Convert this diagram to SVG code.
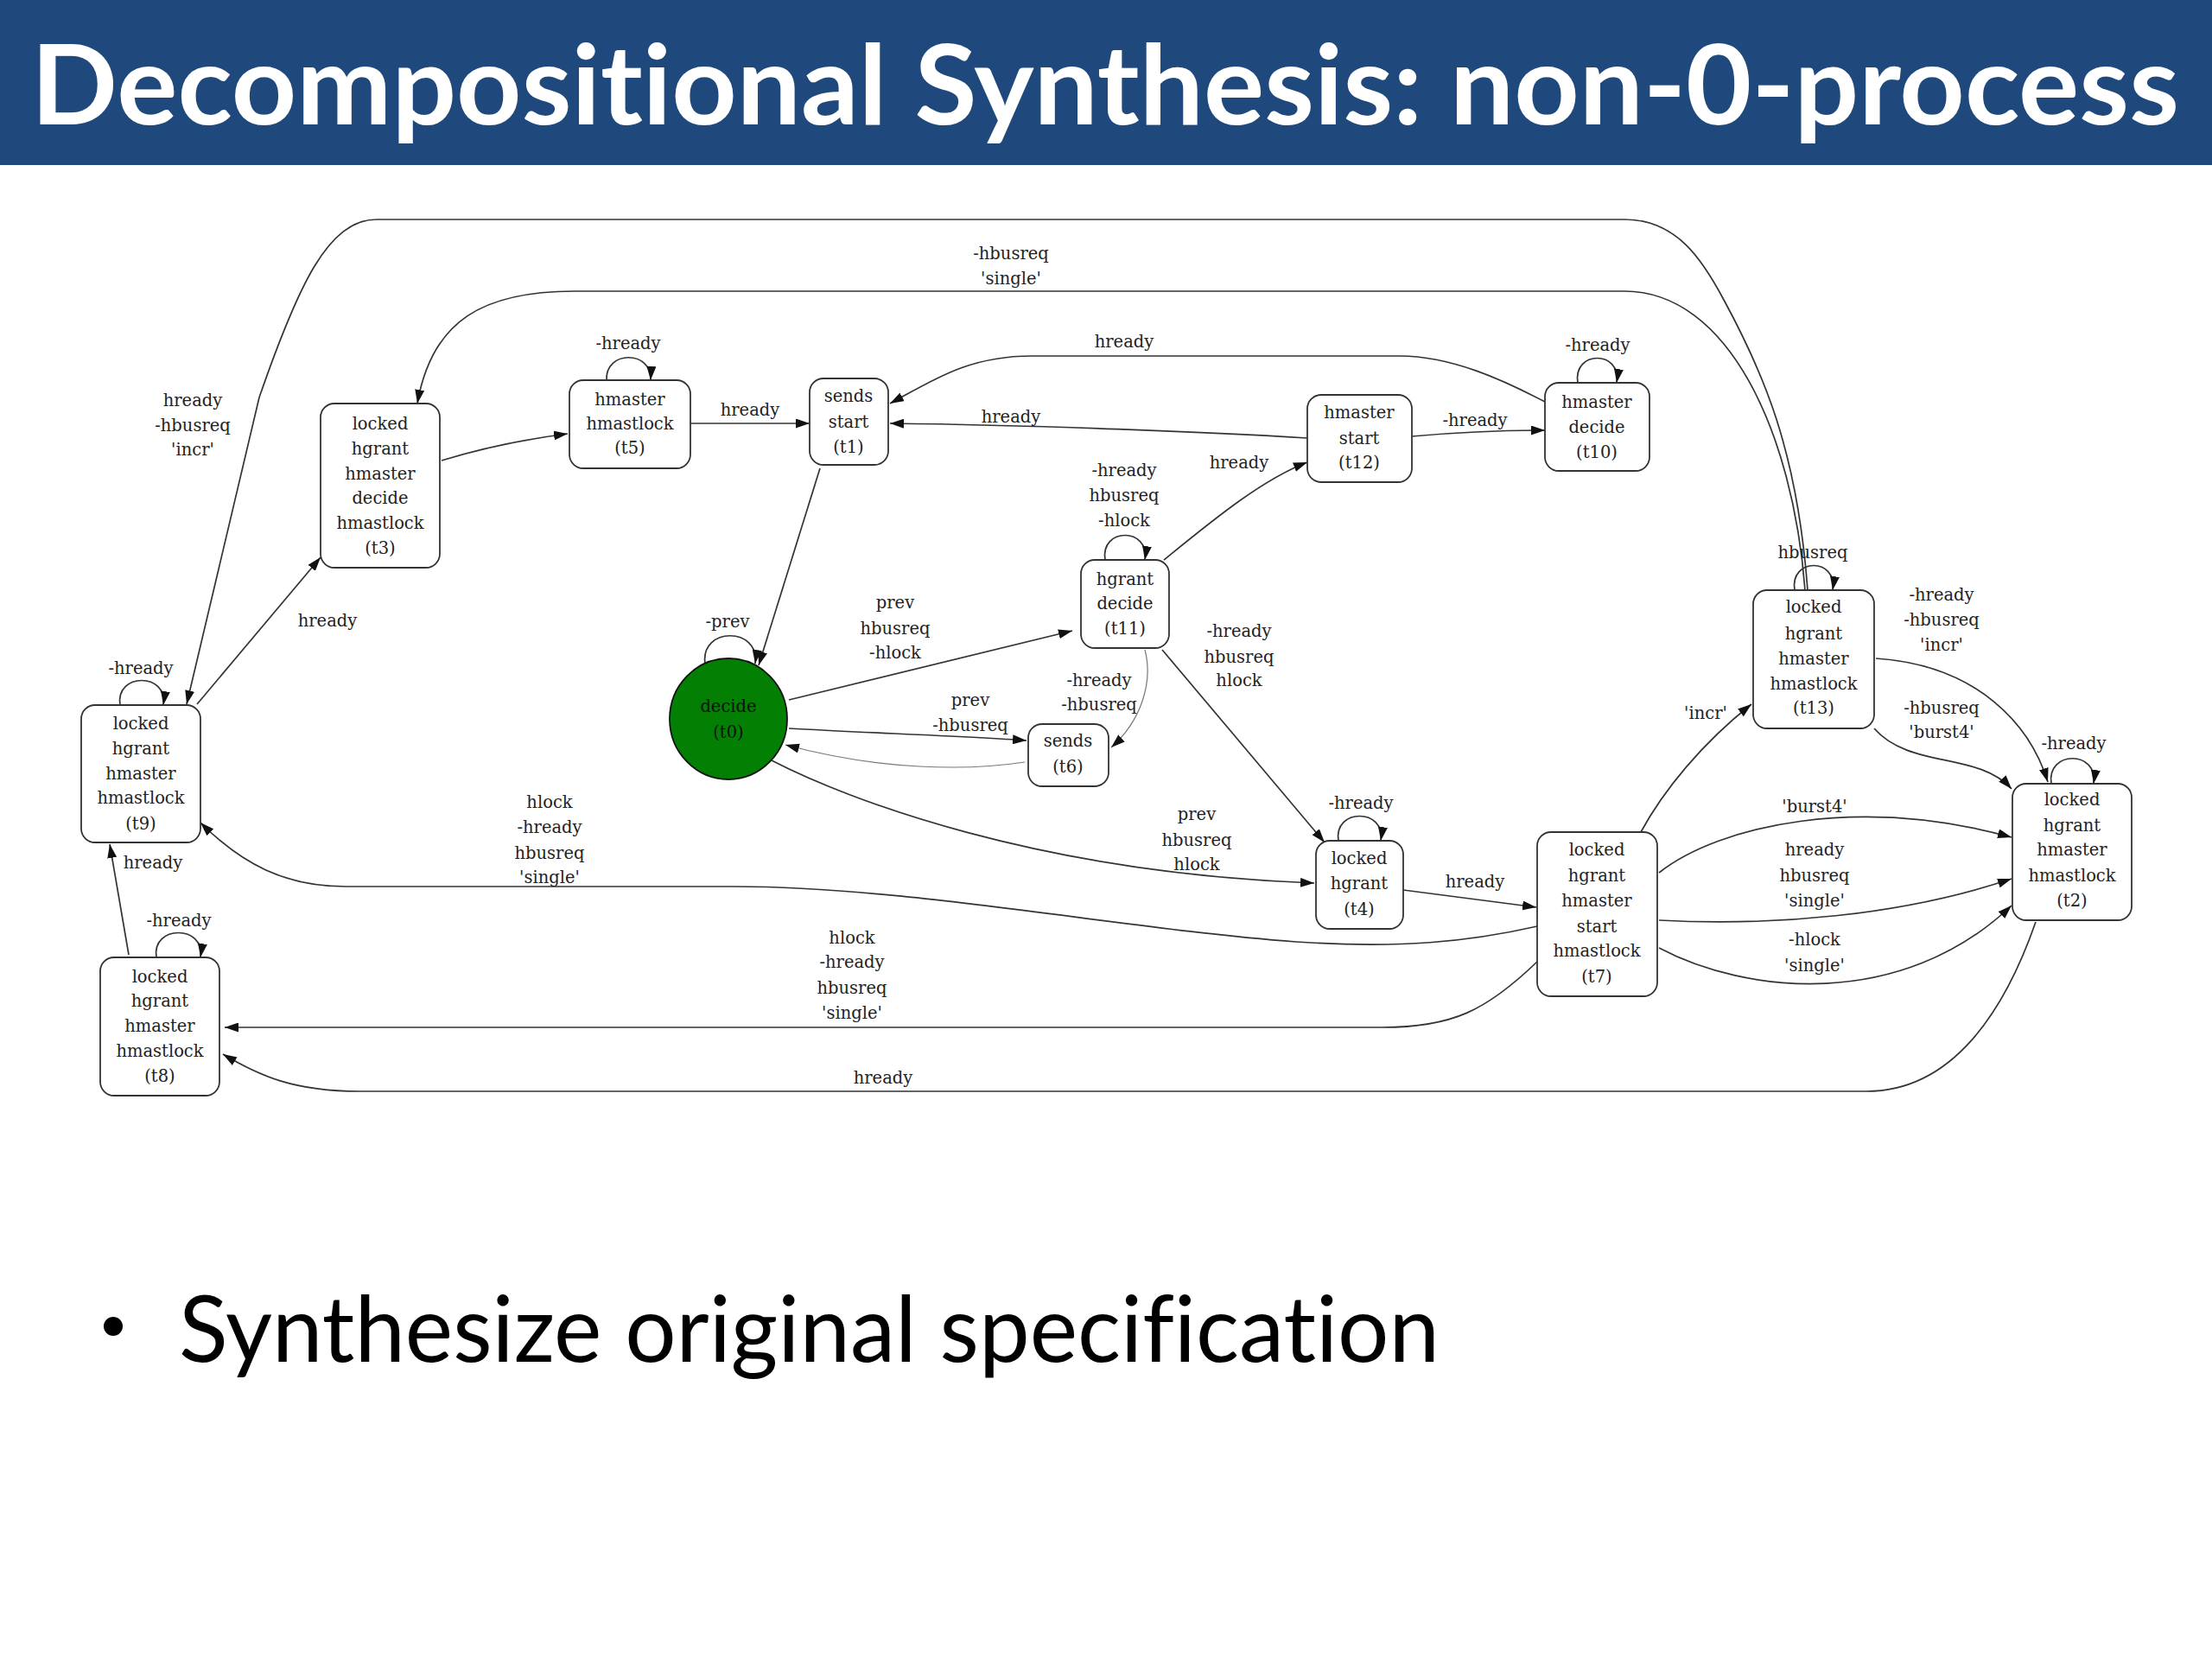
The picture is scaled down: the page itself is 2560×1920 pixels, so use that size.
<svg xmlns="http://www.w3.org/2000/svg" width="2560" height="1920" viewBox="0 0 2560 1920">
<style>
.box{fill:#fff;stroke:#333;stroke-width:1.8}
.e{fill:none;stroke:#333;stroke-width:1.7;marker-end:url(#ah)}
.el{fill:none;stroke:#777;stroke-width:1.2;marker-end:url(#ah)}
.t{font-family:"DejaVu Serif",serif;font-size:19.5px;fill:#222;text-anchor:middle}
.slide{font-family:Lato,"Open Sans",sans-serif;font-variant-ligatures:none;font-feature-settings:"liga" 0,"clig" 0}
</style>
<defs>
<marker id="ah" markerUnits="userSpaceOnUse" markerWidth="16" markerHeight="11" viewBox="0 0 16 11" refX="16" refY="5.5" orient="auto">
<path d="M0,0 L16,5.5 L0,11 z" fill="#111"/>
</marker>
</defs>
<rect x="0" y="0" width="2560" height="1920" fill="#fff"/>
<rect x="0" y="0" width="2560" height="191" fill="#1f497d"/>
<text class="slide" x="36" y="144" font-weight="bold" font-size="128" fill="#fff" textLength="2486" lengthAdjust="spacingAndGlyphs">Decompositional Synthesis: non-0-process</text>
<circle cx="131" cy="1535" r="11" fill="#000"/>
<text class="slide" x="207" y="1576" font-size="107" fill="#000" textLength="1459" lengthAdjust="spacingAndGlyphs">Synthesize original specification</text>

<g id="connectors">
<path class="e" d="M2092,683 C2080,520 2040,430 1995,347 C1970,300 1940,254 1880,254 L436,254 C380,254 345,330 300,460 L216,815"/>
<path class="e" d="M2089,683 C2075,500 2000,337 1880,337 L665,337 C560,337 500,370 483,467"/>
<path class="e" d="M511,533 C560,518 610,508 657,502"/>
<path class="e" d="M702,440 C700,405 755,405 753,440"/>
<path class="e" d="M799,490 L937,490"/>
<path class="e" d="M949,542 L878,770"/>
<path class="e" d="M816,768 C810,725 880,725 874,768"/>
<path class="e" d="M913,810 L1241,730"/>
<path class="e" d="M913,843 C1000,848 1120,852 1188,857"/>
<path class="el" d="M1186,882 C1120,892 1020,892 909,862"/>
<path class="e" d="M1279,648 C1273,610 1331,610 1325,648"/>
<path class="e" d="M1347,648 C1400,605 1460,555 1513,535"/>
<path class="el" d="M1325,752 C1335,790 1320,835 1286,865"/>
<path class="e" d="M1345,752 L1533,975"/>
<path class="e" d="M893,880 C980,925 1200,1010 1521,1022"/>
<path class="e" d="M1549,973 C1543,935 1604,935 1598,973"/>
<path class="e" d="M1624,1030 L1778,1050"/>
<path class="e" d="M1899,963 C1925,915 1970,860 2027,815"/>
<path class="e" d="M2077,683 C2071,645 2127,645 2121,683"/>
<path class="e" d="M2171,762 C2290,770 2350,840 2370,905"/>
<path class="e" d="M2169,843 C2210,890 2290,870 2328,913"/>
<path class="e" d="M2374,907 C2368,868 2429,868 2423,907"/>
<path class="e" d="M1920,1010 C1990,955 2150,920 2328,969"/>
<path class="e" d="M1920,1065 C2050,1072 2200,1060 2328,1017"/>
<path class="e" d="M1920,1097 C2020,1150 2200,1170 2328,1048"/>
<path class="e" d="M2356,1067 C2320,1170 2260,1263 2160,1263 L416,1263 C340,1263 300,1245 258,1220"/>
<path class="e" d="M1779,1113 C1720,1170 1680,1189 1600,1189 L260,1189"/>
<path class="e" d="M1779,1072 C1700,1090 1620,1098 1500,1090 C1300,1075 1050,1026 850,1026 L400,1026 C330,1026 280,1000 232,952"/>
<path class="e" d="M228,815 L371,645"/>
<path class="e" d="M149,1105 L127,977"/>
<path class="e" d="M139,816 C133,778 195,778 189,816"/>
<path class="e" d="M181,1108 C175,1070 238,1070 232,1108"/>
<path class="e" d="M1826,443 C1820,405 1877,405 1871,443"/>
<path class="e" d="M1634,505 C1690,500 1740,498 1788,498"/>
<path class="e" d="M1788,465 C1740,440 1680,412 1620,412 L1194,412 C1120,412 1080,440 1030,467"/>
<path class="e" d="M1513,507 C1400,500 1200,492 1030,490"/>

<text class="t" x="223" y="470">hready</text>
<text class="t" x="223" y="499">-hbusreq</text>
<text class="t" x="223" y="527">'incr'</text>
<text class="t" x="1170" y="300">-hbusreq</text>
<text class="t" x="1170" y="329">'single'</text>
<text class="t" x="727" y="404">-hready</text>
<text class="t" x="868" y="481">hready</text>
<text class="t" x="1301" y="402">hready</text>
<text class="t" x="1170" y="489">hready</text>
<text class="t" x="1849" y="406">-hready</text>
<text class="t" x="1707" y="493">-hready</text>
<text class="t" x="1434" y="542">hready</text>
<text class="t" x="1301" y="551">-hready</text>
<text class="t" x="1301" y="580">hbusreq</text>
<text class="t" x="1301" y="609">-hlock</text>
<text class="t" x="842" y="726">-prev</text>
<text class="t" x="1036" y="704">prev</text>
<text class="t" x="1036" y="734">hbusreq</text>
<text class="t" x="1036" y="762">-hlock</text>
<text class="t" x="1123" y="817">prev</text>
<text class="t" x="1123" y="846">-hbusreq</text>
<text class="t" x="1272" y="794">-hready</text>
<text class="t" x="1272" y="822">-hbusreq</text>
<text class="t" x="1434" y="737">-hready</text>
<text class="t" x="1434" y="767">hbusreq</text>
<text class="t" x="1434" y="794">hlock</text>
<text class="t" x="1385" y="949">prev</text>
<text class="t" x="1385" y="979">hbusreq</text>
<text class="t" x="1385" y="1007">hlock</text>
<text class="t" x="1575" y="936">-hready</text>
<text class="t" x="1707" y="1027">hready</text>
<text class="t" x="1974" y="832">'incr'</text>
<text class="t" x="2098" y="646">hbusreq</text>
<text class="t" x="2247" y="695">-hready</text>
<text class="t" x="2247" y="724">-hbusreq</text>
<text class="t" x="2247" y="753">'incr'</text>
<text class="t" x="2247" y="826">-hbusreq</text>
<text class="t" x="2247" y="854">'burst4'</text>
<text class="t" x="2400" y="867">-hready</text>
<text class="t" x="2100" y="940">'burst4'</text>
<text class="t" x="2100" y="990">hready</text>
<text class="t" x="2100" y="1020">hbusreq</text>
<text class="t" x="2100" y="1049">'single'</text>
<text class="t" x="2100" y="1094">-hlock</text>
<text class="t" x="2100" y="1124">'single'</text>
<text class="t" x="1022" y="1254">hready</text>
<text class="t" x="986" y="1092">hlock</text>
<text class="t" x="986" y="1120">-hready</text>
<text class="t" x="986" y="1150">hbusreq</text>
<text class="t" x="986" y="1179">'single'</text>
<text class="t" x="636" y="935">hlock</text>
<text class="t" x="636" y="964">-hready</text>
<text class="t" x="636" y="994">hbusreq</text>
<text class="t" x="636" y="1022">'single'</text>
<text class="t" x="379" y="725">hready</text>
<text class="t" x="177" y="1005">hready</text>
<text class="t" x="163" y="780">-hready</text>
<text class="t" x="207" y="1072">-hready</text>
</g>

<g id="t0">
<ellipse cx="843" cy="832" rx="68" ry="70" fill="#037f03" stroke="#111" stroke-width="1.8"/>
<text class="t" x="843" y="824" style="fill:#111">decide</text>
<text class="t" x="843" y="854" style="fill:#111">(t0)</text>
</g>
<g id="t1">
<rect class="box" x="937" y="438" width="91" height="100" rx="16"/>
<text class="t" x="982" y="465">sends</text>
<text class="t" x="982" y="495">start</text>
<text class="t" x="982" y="524">(t1)</text>
</g>
<g id="t3">
<rect class="box" x="371" y="467" width="138" height="190" rx="16"/>
<text class="t" x="440" y="497">locked</text>
<text class="t" x="440" y="526">hgrant</text>
<text class="t" x="440" y="555">hmaster</text>
<text class="t" x="440" y="583">decide</text>
<text class="t" x="440" y="612">hmastlock</text>
<text class="t" x="440" y="641">(t3)</text>
</g>
<g id="t5">
<rect class="box" x="659" y="440" width="140" height="102" rx="16"/>
<text class="t" x="729" y="469">hmaster</text>
<text class="t" x="729" y="497">hmastlock</text>
<text class="t" x="729" y="525">(t5)</text>
</g>
<g id="t9">
<rect class="box" x="94" y="816" width="138" height="159" rx="16"/>
<text class="t" x="163" y="844">locked</text>
<text class="t" x="163" y="873">hgrant</text>
<text class="t" x="163" y="902">hmaster</text>
<text class="t" x="163" y="930">hmastlock</text>
<text class="t" x="163" y="960">(t9)</text>
</g>
<g id="t8">
<rect class="box" x="116" y="1108" width="138" height="160" rx="16"/>
<text class="t" x="185" y="1137">locked</text>
<text class="t" x="185" y="1165">hgrant</text>
<text class="t" x="185" y="1194">hmaster</text>
<text class="t" x="185" y="1223">hmastlock</text>
<text class="t" x="185" y="1252">(t8)</text>
</g>
<g id="t10">
<rect class="box" x="1788" y="443" width="121" height="102" rx="16"/>
<text class="t" x="1848" y="472">hmaster</text>
<text class="t" x="1848" y="501">decide</text>
<text class="t" x="1848" y="530">(t10)</text>
</g>
<g id="t11">
<rect class="box" x="1251" y="648" width="102" height="102" rx="16"/>
<text class="t" x="1302" y="677">hgrant</text>
<text class="t" x="1302" y="705">decide</text>
<text class="t" x="1302" y="734">(t11)</text>
</g>
<g id="t12">
<rect class="box" x="1513" y="457" width="121" height="101" rx="16"/>
<text class="t" x="1573" y="484">hmaster</text>
<text class="t" x="1573" y="514">start</text>
<text class="t" x="1573" y="542">(t12)</text>
</g>
<g id="t13">
<rect class="box" x="2029" y="683" width="140" height="160" rx="16"/>
<text class="t" x="2099" y="709">locked</text>
<text class="t" x="2099" y="740">hgrant</text>
<text class="t" x="2099" y="769">hmaster</text>
<text class="t" x="2099" y="798">hmastlock</text>
<text class="t" x="2099" y="826">(t13)</text>
</g>
<g id="t2">
<rect class="box" x="2329" y="907" width="138" height="158" rx="16"/>
<text class="t" x="2398" y="932">locked</text>
<text class="t" x="2398" y="962">hgrant</text>
<text class="t" x="2398" y="990">hmaster</text>
<text class="t" x="2398" y="1020">hmastlock</text>
<text class="t" x="2398" y="1049">(t2)</text>
</g>
<g id="t4">
<rect class="box" x="1523" y="973" width="101" height="102" rx="16"/>
<text class="t" x="1573" y="1000">locked</text>
<text class="t" x="1573" y="1029">hgrant</text>
<text class="t" x="1573" y="1059">(t4)</text>
</g>
<g id="t6">
<rect class="box" x="1190" y="838" width="93" height="72" rx="16"/>
<text class="t" x="1236" y="864">sends</text>
<text class="t" x="1236" y="894">(t6)</text>
</g>
<g id="t7">
<rect class="box" x="1779" y="963" width="139" height="190" rx="16"/>
<text class="t" x="1848" y="990">locked</text>
<text class="t" x="1848" y="1020">hgrant</text>
<text class="t" x="1848" y="1049">hmaster</text>
<text class="t" x="1848" y="1079">start</text>
<text class="t" x="1848" y="1107">hmastlock</text>
<text class="t" x="1848" y="1137">(t7)</text>
</g>
</svg>
